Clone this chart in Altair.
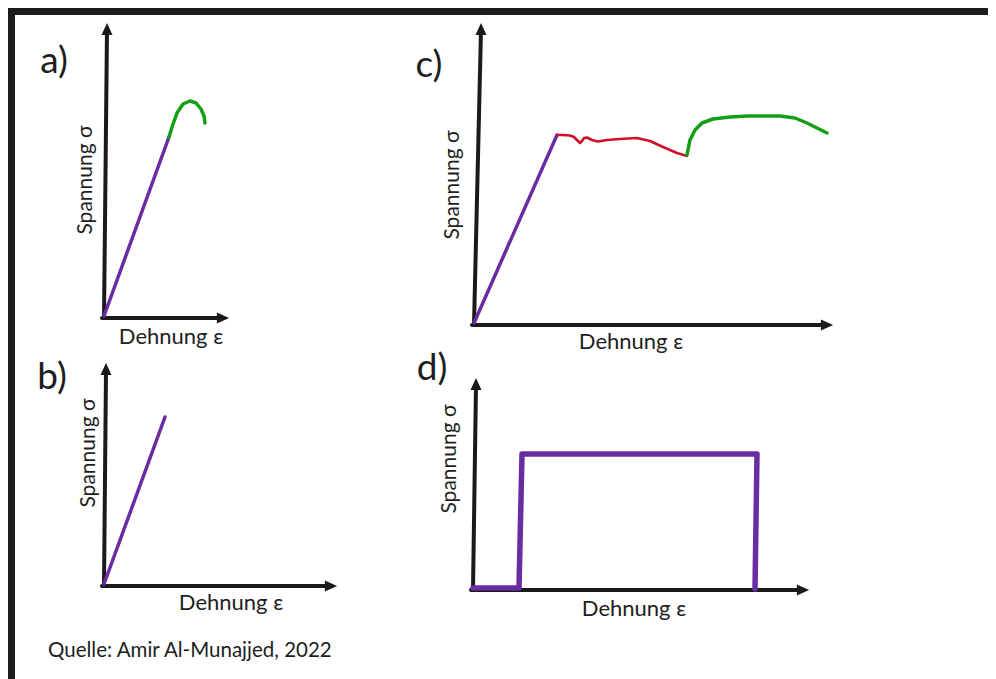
import altair as alt
import pandas as pd

# ---- figure coordinates in px of the reference image ----
FONT = "Lato"

# axis segments per panel: (start_x, start_y, end_x, end_y)
axis_names = ["a_y", "a_x", "b_y", "b_x", "c_y", "c_x", "d_y", "d_x"]
axis_x0 = [104, 102, 104, 102, 474, 472, 473, 471]
axis_y0 = [318, 318, 586, 586, 325, 325, 590, 590]
axis_x1 = [107, 222, 106, 330, 481, 826, 476, 802]
axis_y1 = [30, 318, 370, 586, 30, 325, 385, 590]
arrow_dir = ["up", "right", "up", "right", "up", "right", "up", "right"]

# curves (strain, stress) in figure coordinates
a_purple_x = [104, 169]
a_purple_y = [316, 137]
a_green_x = [169, 172, 177, 183, 190, 196, 201, 204, 205]
a_green_y = [137, 127, 113, 104, 101, 103, 109, 116, 123]
b_purple_x = [104, 165]
b_purple_y = [584, 417]
c_purple_x = [474, 557]
c_purple_y = [323, 135]
c_red_x = [557, 563, 570, 574, 577, 580, 582, 584, 587, 592, 598, 607, 620, 637, 650, 663, 677, 687]
c_red_y = [135, 135, 135.5, 137, 140, 143, 141, 138, 137.5, 140, 141.5, 140, 139, 138, 141, 147, 153, 156]
c_green_x = [687, 690, 695, 702, 713, 730, 747, 767, 780, 795, 807, 817, 827]
c_green_y = [155, 140, 130, 123, 119, 117, 116, 116, 116, 118, 123, 128, 133]
d_purple_x = [473, 519, 522, 757, 755]
d_purple_y = [588, 588, 454, 454, 589]

PURPLE = "#6a2da1"
RED = "#d01029"
GREEN = "#12a012"

curve_specs = [
    ("a_purple", a_purple_x, a_purple_y, PURPLE, 3.5),
    ("a_green", a_green_x, a_green_y, GREEN, 3.5),
    ("b_purple", b_purple_x, b_purple_y, PURPLE, 3.5),
    ("c_purple", c_purple_x, c_purple_y, PURPLE, 3.5),
    ("c_red", c_red_x, c_red_y, RED, 2.6),
    ("c_green", c_green_x, c_green_y, GREEN, 3.5),
    ("d_purple", d_purple_x, d_purple_y, PURPLE, 5.5),
]

# labels
letter_text = ["a)", "b)", "c)", "d)"]
letter_x = [54, 52, 429, 432]
letter_y = [62, 378, 66, 369]

ytitle_x = [86, 89, 453, 450]
ytitle_y = [180, 453, 185, 459]
xtitle_x = [171, 231, 631, 634]
xtitle_y = [337, 603, 342, 609]

source_text = ["Quelle: Amir Al-Munajjed, 2022"]
source_x = [48]
source_y = [651]

# ---- build tables ----
rows = []
for name, x0, y0, x1, y1 in zip(axis_names, axis_x0, axis_y0, axis_x1, axis_y1):
    rows.append(dict(seg=name, i=0, x=x0, y=y0, color="#1a1a1a", w=4))
    rows.append(dict(seg=name, i=1, x=x1, y=y1, color="#1a1a1a", w=4))
for name, xs_, ys_, col, w in curve_specs:
    for i, (xv, yv) in enumerate(zip(xs_, ys_)):
        rows.append(dict(seg=name, i=i, x=xv, y=yv, color=col, w=w))
lines_df = pd.DataFrame(rows)

heads = []
for x1, y1, d in zip(axis_x1, axis_y1, arrow_dir):
    if d == "up":
        heads.append(dict(x=x1, y=y1 - 1, shape="M0,-1L0.9,1L-0.9,1Z"))
    else:
        heads.append(dict(x=x1 + 1, y=y1, shape="M1,0L-1,-0.9L-1,0.9Z"))
heads_df = pd.DataFrame(heads)

X_MAX = 988
Y_MAX = 679

frame_df = pd.DataFrame({
    "x": [8, 11.5], "x2": [X_MAX, 11.5],
    "y": [11.5, 8], "y2": [11.5, Y_MAX],
})

letters_df = pd.DataFrame({"t": letter_text, "x": letter_x, "y": letter_y})
ytitles_df = pd.DataFrame({"t": ["Spannung σ"] * 4, "x": ytitle_x, "y": ytitle_y})
xtitles_df = pd.DataFrame({"t": ["Dehnung ε"] * 4, "x": xtitle_x, "y": xtitle_y})
source_df = pd.DataFrame({"t": source_text, "x": source_x, "y": source_y})

xs = alt.Scale(domain=[8, X_MAX], nice=False, zero=False)
ys = alt.Scale(domain=[8, Y_MAX], nice=False, zero=False, reverse=True)
X = lambda f="x": alt.X(f"{f}:Q", scale=xs, axis=None)
Y = lambda f="y": alt.Y(f"{f}:Q", scale=ys, axis=None)

frame = alt.Chart(frame_df).mark_rule(color="#1c1c1c", strokeWidth=7).encode(
    x=X(), x2="x2:Q", y=Y(), y2="y2:Q"
)

lines = alt.Chart(lines_df).mark_line(strokeCap="round", strokeJoin="round").encode(
    x=X(), y=Y(),
    detail="seg:N",
    order=alt.Order("i:Q"),
    color=alt.Color("color:N", scale=None),
    strokeWidth=alt.StrokeWidth("w:Q", scale=None),
)

heads = alt.Chart(heads_df).mark_point(filled=True, color="#1a1a1a", size=150, opacity=1).encode(
    x=X(), y=Y(), shape=alt.Shape("shape:N", scale=None)
)

letters = alt.Chart(letters_df).mark_text(
    font=FONT, fontSize=37, color="#1e1e1e", align="center", baseline="middle"
).encode(x=X(), y=Y(), text="t:N")

ytitles = alt.Chart(ytitles_df).mark_text(
    font=FONT, fontSize=21, color="#1e1e1e", align="center", baseline="middle", angle=270
).encode(x=X(), y=Y(), text="t:N")

xtitles = alt.Chart(xtitles_df).mark_text(
    font=FONT, fontSize=22, color="#1e1e1e", align="center", baseline="middle"
).encode(x=X(), y=Y(), text="t:N")

source = alt.Chart(source_df).mark_text(
    font=FONT, fontSize=20.5, color="#1e1e1e", align="left", baseline="middle"
).encode(x=X(), y=Y(), text="t:N")

chart = alt.layer(frame, lines, heads, letters, ytitles, xtitles, source).properties(
    width=X_MAX - 8, height=Y_MAX - 8, padding=0, autosize=alt.AutoSizeParams(type="none"),
    background="white",
).configure_view(strokeWidth=0)

chart.save("out.html", embed_options={"renderer": "svg", "actions": False})
